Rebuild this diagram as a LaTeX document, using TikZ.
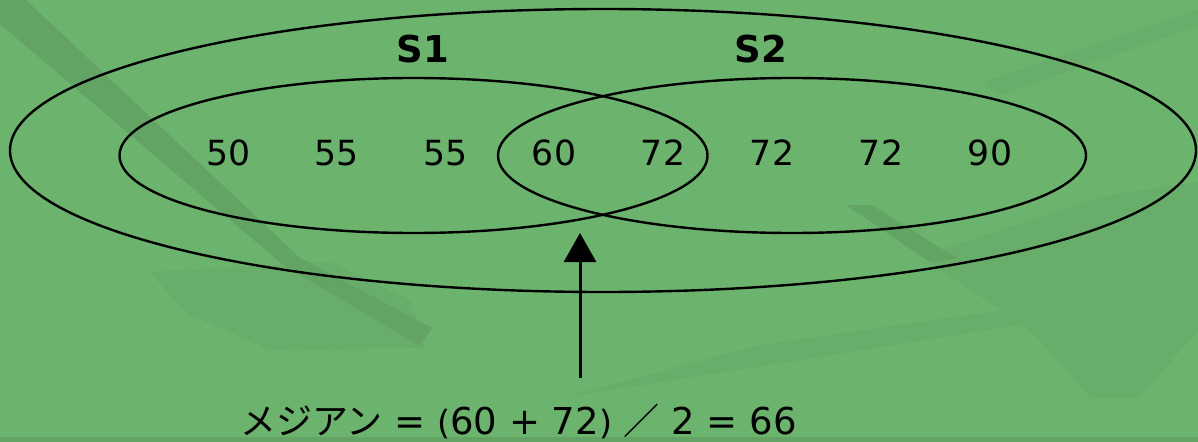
\documentclass[tikz,border=0pt]{standalone}
\usepackage{fontspec}
\setmainfont{DejaVu Sans}
\newfontfamily\cjk{Noto Sans CJK JP}
\usetikzlibrary{arrows.meta,shapes.geometric}
\definecolor{bg}{RGB}{108,179,109}
\definecolor{bgdark}{RGB}{99,164,100}
\definecolor{bgmid}{RGB}{104,173,105}
\tikzset{
  ring/.style={draw=black, line width=1.8pt, ellipse, inner sep=0pt},
  num/.style={font=\fontsize{26}{30}\selectfont, anchor=base, inner sep=0pt},
  setlabel/.style={font=\bfseries\fontsize{27.75}{30}\selectfont, anchor=base, inner sep=0pt},
  pointer/.style={line width=2.25pt, -{Triangle[length=21.75pt, width=24pt]}},
  formula/.style={font=\fontsize{27.75}{30}\selectfont, anchor=base west, inner sep=0pt},
  shade1/.style={fill=bgdark, draw=none},
  shade2/.style={fill=bgmid, draw=none}
}
\begin{document}
\begin{tikzpicture}[x=0.75pt,y=-0.75pt]
\fill[bg] (0,0) rectangle (1198,442);
\useasboundingbox (0,0) rectangle (1198,442);
% background texture
\fill[shade2] (150,272) -- (330,262) -- (410,300) -- (425,348) -- (270,350) -- (185,312) -- cycle;
\fill[shade1] (0,0) -- (26,0) -- (300,258) -- (432,328) -- (420,346) -- (282,264) -- (0,24) -- cycle;
\fill[shade2] (846,205) -- (872,205) -- (940,250) -- (1105,196) -- (1198,182) -- (1198,330) -- (1140,397) -- (1090,397) -- (1030,330) -- (930,262) -- cycle;
\fill[shade1] (846,205) -- (872,205) -- (935,245) -- (958,258) -- (930,262) -- cycle;
\fill[shade2] (565,397) -- (760,345) -- (1198,282) -- (1198,296) -- (800,360) -- cycle;
\fill[shade2] (981,83) -- (1198,10) -- (1198,26) -- (1000,95) -- cycle;
\fill[bgdark] (0,437) rectangle (1198,442);
% sets
\node[ring, minimum width=889.5pt, minimum height=212.25pt] (all) at (603,150.5) {};
\node[ring, minimum width=441pt, minimum height=116.25pt] (s1) at (413.5,155.5) {};
\node[ring, minimum width=441pt, minimum height=116.25pt] (s2) at (792,155.5) {};
\node[setlabel] (s1label) at (423,63) {S1};
\node[setlabel] (s2label) at (761,63) {S2};
% values
\node[num] (v1) at (229,166) {50};
\node[num] (v2) at (337,166) {55};
\node[num] (v3) at (446,166) {55};
\node[num] (v4) at (554,166) {60};
\node[num] (v5) at (663,166) {72};
\node[num] (v6) at (772,166) {72};
\node[num] (v7) at (881,166) {72};
\node[num] (v8) at (990,166) {90};
% median arrow
\coordinate (foot) at (580,378);
\coordinate (tip) at (580,233);
\draw[pointer] (foot) -- (tip);
\node[formula] (median) at (240,434) {{\cjk\fontsize{27}{30}\selectfont メジアン} = {\fontsize{25}{30}\selectfont(}60 + 72{\fontsize{25}{30}\selectfont)} {\cjk\fontsize{27}{30}\selectfont ／} 2 = 66};
\end{tikzpicture}
\end{document}
